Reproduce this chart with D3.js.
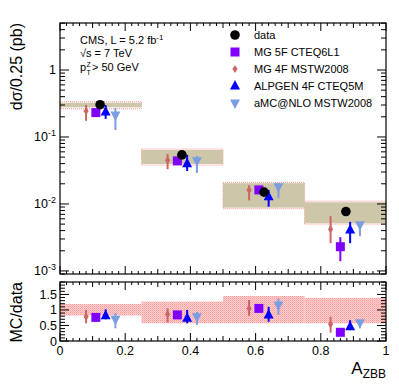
<!DOCTYPE html>
<html>
<head>
<meta charset="utf-8">
<script src="https://cdn.jsdelivr.net/npm/d3@7"></script>
<style>
  body { margin: 0; background: #fff; }
  text { font-family: "Liberation Sans", Arial, sans-serif; fill: #000; }
</style>
</head>
<body>
<svg id="chart" width="399" height="387"></svg>
<script>
// bin edges and data
const binEdges = [0, 0.25, 0.5, 0.75, 1];
const dataX = [0.123, 0.374, 0.626, 0.877];
const dataY = [0.303, 0.054, 0.0150, 0.0077];
const bandLo = [0.277, 0.0395, 0.0088, 0.00515];
const bandHi = [0.325, 0.064, 0.0204, 0.0106];
const bandOutLo = [0.264, 0.038, 0.0085, 0.0050];
const bandOutHi = [0.336, 0.066, 0.021, 0.0110];
const ratioBandLo = [0.82, 0.57, 0.57, 0.57];
const ratioBandHi = [1.19, 1.27, 1.45, 1.39];

// model predictions
const mg4fX = [0.08, 0.33, 0.58, 0.83];
const mg4fY = [0.244, 0.045, 0.0162, 0.0042];
const mg4fLo = [0.174, 0.033, 0.0113, 0.0026];
const mg4fHi = [0.30, 0.056, 0.019, 0.0066];
const mg4fR = [0.78, 0.86, 1.05, 0.54];
const mg4fRLo = [0.57, 0.60, 0.81, 0.27];
const mg4fRHi = [1.0, 1.05, 1.32, 0.78];

const mg5fX = [0.11, 0.36, 0.61, 0.86];
const mg5fY = [0.231, 0.044, 0.0162, 0.0023];
const mg5fLo = [0.21, 0.040, 0.0150, 0.0014];
const mg5fHi = [0.25, 0.048, 0.0175, 0.0032];
const mg5fR = [0.76, 0.84, 1.05, 0.28];
const mg5fRLo = [0.66, 0.72, 0.97, 0.25];
const mg5fRHi = [0.86, 0.92, 1.12, 0.32];

const alpX = [0.14, 0.39, 0.64, 0.89];
const alpY = [0.236, 0.040, 0.0128, 0.0041];
const alpLo = [0.186, 0.031, 0.0091, 0.0026];
const alpHi = [0.30, 0.054, 0.0162, 0.0054];
const alpR = [0.81, 0.73, 0.84, 0.46];
const alpRLo = [0.70, 0.57, 0.62, 0.35];
const alpRHi = [1.02, 1.0, 1.1, 0.67];

const amcX = [0.17, 0.42, 0.67, 0.92];
const amcY = [0.213, 0.044, 0.0181, 0.0049];
const amcLo = [0.127, 0.029, 0.0122, 0.0033];
const amcHi = [0.27, 0.052, 0.0204, 0.0054];
const amcR = [0.70, 0.78, 1.16, 0.59];
const amcRLo = [0.41, 0.52, 0.84, 0.41];
const amcRHi = [0.90, 0.94, 1.37, 0.68];

const xTicks = [0, 0.2, 0.4, 0.6, 0.8, 1];
const yDecades = [1, 0.1, 0.01, 0.001];
const ratioTicks = [0, 0.5, 1, 1.5];

const svg = d3.select("#chart");
const left = 60, right = 386;
const top1 = 23, bot1 = 274, top2 = 282, bot2 = 341;

const x = d3.scaleLinear().domain([0, 1]).range([left, right]);
const y = d3.scaleLog().domain([0.0009, 5.03]).range([bot1, top1]);
const yr = d3.scaleLinear().domain([0, 1.9]).range([bot2, top2]);

// hatch pattern for ratio band
const defs = svg.append("defs");
const pat = defs.append("pattern").attr("id", "hatch").attr("patternUnits", "userSpaceOnUse")
  .attr("width", 2).attr("height", 2);
pat.append("rect").attr("width", 2).attr("height", 2).attr("fill", "#ffd0d0");
pat.append("rect").attr("width", 1).attr("height", 1).attr("fill", "#ff9a9a");
pat.append("rect").attr("x", 1).attr("y", 1).attr("width", 1).attr("height", 1).attr("fill", "#ffb0b0");

const bins = d3.range(4);

// top panel bands
svg.append("g").selectAll("rect").data(bins).join("rect")
  .attr("x", i => x(binEdges[i])).attr("width", i => x(binEdges[i + 1]) - x(binEdges[i]))
  .attr("y", i => y(bandOutHi[i])).attr("height", i => y(bandOutLo[i]) - y(bandOutHi[i]))
  .attr("fill", "none").attr("stroke", "#ff9090").attr("stroke-width", 1)
  .attr("stroke-dasharray", "1,1");
svg.append("g").selectAll("rect").data(bins).join("rect")
  .attr("x", i => x(binEdges[i])).attr("width", i => x(binEdges[i + 1]) - x(binEdges[i]))
  .attr("y", i => y(bandHi[i])).attr("height", i => y(bandLo[i]) - y(bandHi[i]))
  .attr("fill", "#cdc6a8");

// ratio bands
svg.append("g").selectAll("rect").data(bins).join("rect")
  .attr("x", i => x(binEdges[i])).attr("width", i => x(binEdges[i + 1]) - x(binEdges[i]))
  .attr("y", i => yr(ratioBandHi[i])).attr("height", i => yr(ratioBandLo[i]) - yr(ratioBandHi[i]))
  .attr("fill", "url(#hatch)");

// marker shapes
function marker(g, shape, color) {
  if (shape === "circle") g.append("circle").attr("r", 4.8).attr("fill", color);
  else if (shape === "square") g.append("rect").attr("x", -4.5).attr("y", -4.5).attr("width", 9).attr("height", 9).attr("fill", color);
  else if (shape === "diamond") g.append("path").attr("d", "M0,-4L2.6,0L0,4L-2.6,0Z").attr("fill", color);
  else if (shape === "up") g.append("path").attr("d", "M0,-6L5,3.5L-5,3.5Z").attr("fill", color);
  else if (shape === "down") g.append("path").attr("d", "M0,6L5,-3.5L-5,-3.5Z").attr("fill", color);
}

const models = [
  { name: "MG 4F MSTW2008", shape: "diamond", color: "#cc6666", xs: mg4fX, ys: mg4fY, lo: mg4fLo, hi: mg4fHi, r: mg4fR, rlo: mg4fRLo, rhi: mg4fRHi },
  { name: "MG 5F CTEQ6L1", shape: "square", color: "#8000ff", xs: mg5fX, ys: mg5fY, lo: mg5fLo, hi: mg5fHi, r: mg5fR, rlo: mg5fRLo, rhi: mg5fRHi },
  { name: "ALPGEN 4F CTEQ5M", shape: "up", color: "#0000ff", xs: alpX, ys: alpY, lo: alpLo, hi: alpHi, r: alpR, rlo: alpRLo, rhi: alpRHi },
  { name: "aMC@NLO MSTW2008", shape: "down", color: "#7b9ee0", xs: amcX, ys: amcY, lo: amcLo, hi: amcHi, r: amcR, rlo: amcRLo, rhi: amcRHi }
];

models.forEach(m => {
  bins.forEach(i => {
    // top panel
    svg.append("line").attr("x1", x(m.xs[i])).attr("x2", x(m.xs[i]))
      .attr("y1", y(m.lo[i])).attr("y2", y(m.hi[i])).attr("stroke", m.color).attr("stroke-width", 2);
    marker(svg.append("g").attr("transform", `translate(${x(m.xs[i])},${y(m.ys[i])})`), m.shape, m.color);
    // ratio panel
    svg.append("line").attr("x1", x(m.xs[i])).attr("x2", x(m.xs[i]))
      .attr("y1", yr(m.rlo[i])).attr("y2", yr(m.rhi[i])).attr("stroke", m.color).attr("stroke-width", 2);
    marker(svg.append("g").attr("transform", `translate(${x(m.xs[i])},${yr(m.r[i])})`), m.shape, m.color);
  });
});

// data points
bins.forEach(i => {
  marker(svg.append("g").attr("transform", `translate(${x(dataX[i])},${y(dataY[i])})`), "circle", "#000");
});

// frames
const ax = svg.append("g").attr("stroke", "#000").attr("fill", "none");
ax.append("rect").attr("x", left).attr("y", top1).attr("width", right - left).attr("height", bot1 - top1).attr("stroke-width", 1.2);
ax.append("rect").attr("x", left).attr("y", top2).attr("width", right - left).attr("height", bot2 - top2).attr("stroke-width", 1.2);

// x ticks (both panels, top & bottom edges)
const xMinor = d3.range(0, 1.0001, 0.02);
function xTickMarks(yb, yt) {
  xMinor.forEach(v => {
    const k = Math.round(v * 50);
    const len = k % 10 === 0 ? 8 : (k % 5 === 0 ? 5 : 3);
    ax.append("line").attr("x1", x(v)).attr("x2", x(v)).attr("y1", yb).attr("y2", yb - len);
    ax.append("line").attr("x1", x(v)).attr("x2", x(v)).attr("y1", yt).attr("y2", yt + len);
  });
}
xTickMarks(bot1, top1);
xTickMarks(bot2, top2);

// log y ticks
const logMinor = [];
[0.0001, 0.001, 0.01, 0.1, 1].forEach(d => d3.range(1, 10).forEach(k => logMinor.push(d * k)));
logMinor.filter(v => v >= 0.0009 && v <= 5.03).forEach(v => {
  const major = yDecades.some(d => Math.abs(v / d - 1) < 1e-6);
  const len = major ? 9 : 5;
  ax.append("line").attr("x1", left).attr("x2", left + len).attr("y1", y(v)).attr("y2", y(v));
  ax.append("line").attr("x1", right).attr("x2", right - len).attr("y1", y(v)).attr("y2", y(v));
});

// ratio y ticks
d3.range(0, 1.9001, 0.1).forEach(v => {
  const major = Math.abs(v / 0.5 - Math.round(v / 0.5)) < 1e-6;
  const len = major ? 9 : 5;
  ax.append("line").attr("x1", left).attr("x2", left + len).attr("y1", yr(v)).attr("y2", yr(v));
  ax.append("line").attr("x1", right).attr("x2", right - len).attr("y1", yr(v)).attr("y2", yr(v));
});

// tick labels
const fs = 12.5;
svg.append("g").selectAll("text").data(xTicks).join("text")
  .attr("x", d => x(d)).attr("y", bot2 + 14).attr("text-anchor", "middle").attr("font-size", fs)
  .text(d => d3.format("")(d));
svg.append("g").selectAll("text").data(ratioTicks).join("text")
  .attr("x", left - 3).attr("y", d => yr(d) + 4.5).attr("text-anchor", "end").attr("font-size", fs)
  .text(d => d);
const decG = svg.append("g");
yDecades.forEach(d => {
  const e = Math.round(Math.log10(d));
  if (e === 0) {
    decG.append("text").attr("x", left - 4).attr("y", y(d) + 4.5).attr("text-anchor", "end").attr("font-size", fs).text("1");
  } else {
    const t = decG.append("text").attr("x", left - 4).attr("y", y(d) + 4.5).attr("text-anchor", "end").attr("font-size", fs);
    t.append("tspan").text("10");
    t.append("tspan").attr("dy", -5).attr("font-size", 9).text(String(e));
  }
});

// axis titles
svg.append("text").attr("transform", `translate(22,${top1}) rotate(-90)`).attr("text-anchor", "end")
  .attr("font-size", 16).text("dσ/0.25 (pb)");
svg.append("text").attr("transform", `translate(22,${top2}) rotate(-90)`).attr("text-anchor", "end")
  .attr("font-size", 16).text("MC/data");
const at = svg.append("text").attr("x", right).attr("y", 374).attr("text-anchor", "end").attr("font-size", 17);
at.append("tspan").text("A");
at.append("tspan").attr("dy", 4).attr("font-size", 12).text("ZBB");

// info text
const info = svg.append("g").attr("font-size", 11);
const t1 = info.append("text").attr("x", 80).attr("y", 44);
t1.append("tspan").text("CMS, L = 5.2 fb");
t1.append("tspan").attr("dy", -4).attr("font-size", 8).text("-1");
info.append("text").attr("x", 80).attr("y", 57).text("\u221As = 7 TeV");
info.append("text").attr("x", 80).attr("y", 71).text("p");
info.append("text").attr("x", 86.5).attr("y", 67).attr("font-size", 7).text("Z");
info.append("text").attr("x", 86.5).attr("y", 75).attr("font-size", 7).text("T");
info.append("text").attr("x", 92).attr("y", 71).text("> 50 GeV");

// legend
const legItems = [
  { name: "data", shape: "circle", color: "#000" },
  { name: models[1].name, shape: models[1].shape, color: models[1].color },
  { name: models[0].name, shape: models[0].shape, color: models[0].color },
  { name: models[2].name, shape: models[2].shape, color: models[2].color },
  { name: models[3].name, shape: models[3].shape, color: models[3].color }
];
legItems.forEach((d, i) => {
  const yy = 35 + i * 17;
  marker(svg.append("g").attr("transform", `translate(235,${yy})`), d.shape, d.color);
  svg.append("text").attr("x", 254).attr("y", yy + 4).attr("font-size", 11).text(d.name);
});
</script>
</body>
</html>
